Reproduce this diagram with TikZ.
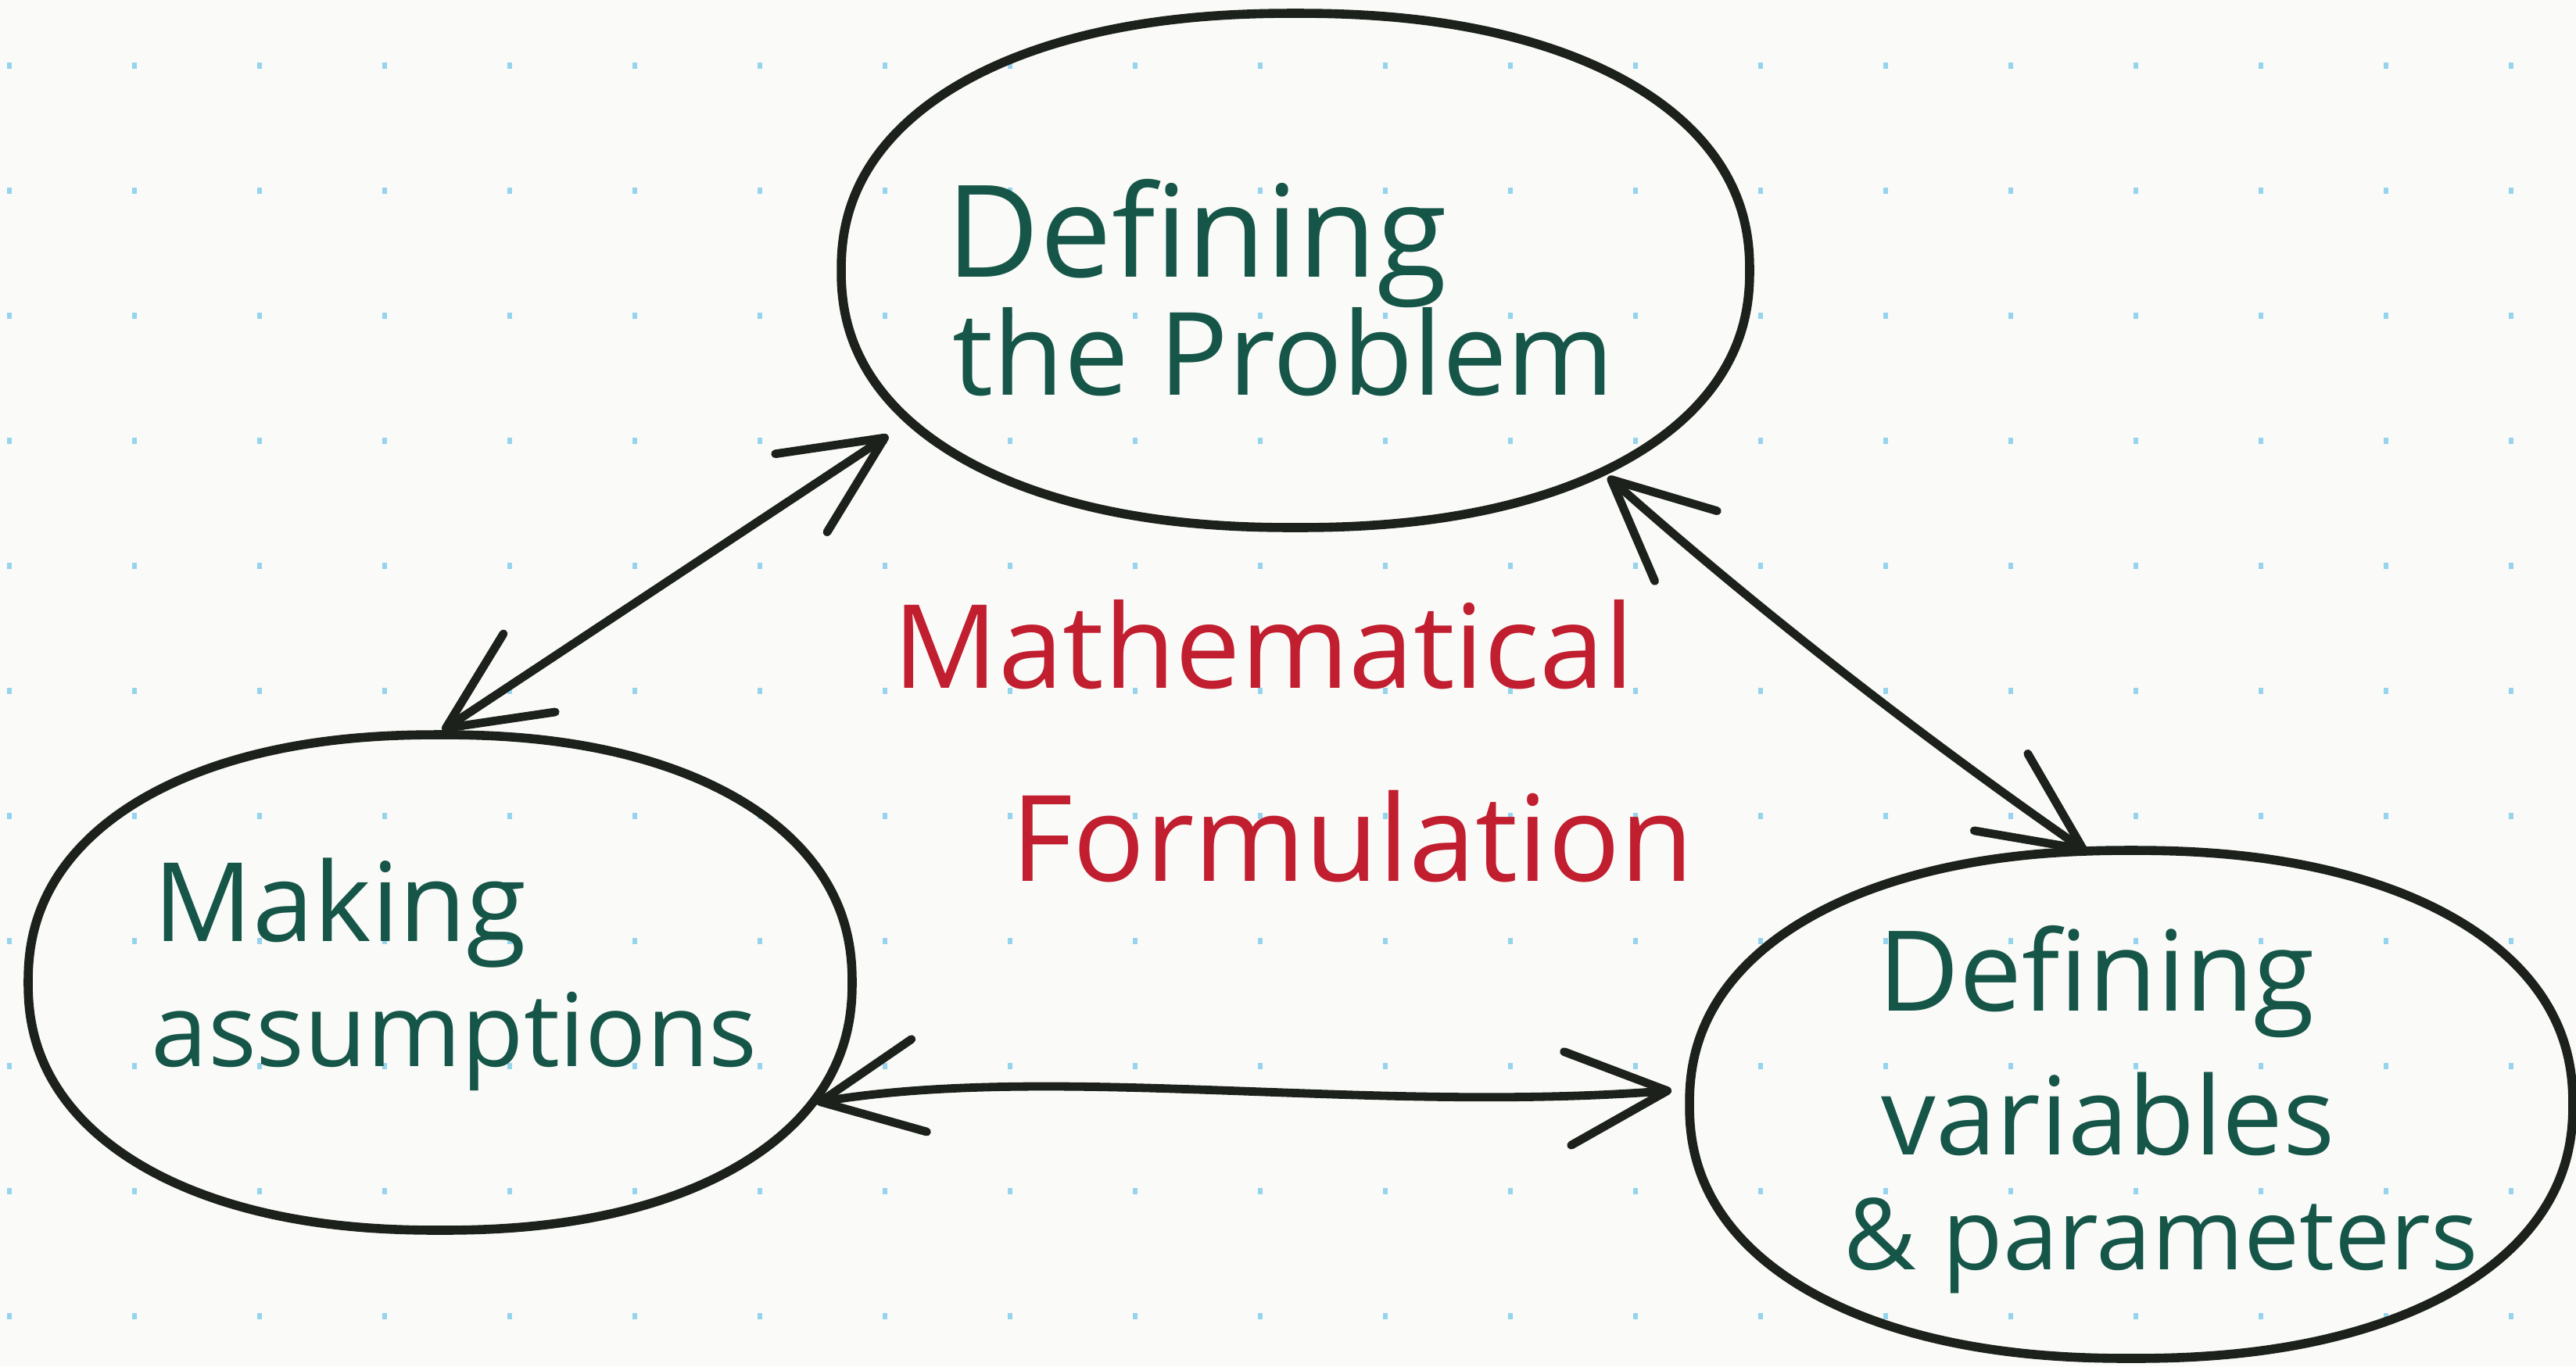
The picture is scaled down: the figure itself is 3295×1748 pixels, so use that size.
\documentclass[tikz,border=0pt]{standalone}
\usepackage{fontspec}
\setmainfont{Open Sans}
\usetikzlibrary{arrows.meta,shapes.geometric}
\definecolor{paper}{RGB}{250,250,248}
\definecolor{dotc}{RGB}{150,212,238}
\definecolor{ink}{RGB}{28,33,27}
\definecolor{grn}{RGB}{22,86,72}
\definecolor{redc}{RGB}{193,30,47}
\newcommand\supell[4]{\draw[outline] plot[domain=0.5:359.5,samples=360]
  ({#1+#3*cos(\x)*pow(abs(cos(\x)),-0.1)},{#2+#4*sin(\x)*pow(abs(sin(\x)),-0.1)}) -- cycle;}
\newcommand\fitw[2]{\resizebox{#1}{!}{#2}}
\begin{document}
\begin{tikzpicture}[x=0.25pt,y=-0.25pt,
  blob/.style={ellipse, draw=none, inner sep=0pt, outer sep=0pt},
  outline/.style={draw=ink, line width=2.9pt, line join=round, line cap=round},
  conn/.style={draw=ink, line width=2.7pt, line cap=round,
    {Straight Barb[length=32pt,width=30pt,round]}-{Straight Barb[length=32pt,width=30pt,round]}},
  lbl/.style={inner sep=0pt, anchor=base west, text=grn},
  ttl/.style={inner sep=0pt, anchor=base west, text=redc}]
\fill[paper] (0,0) rectangle (3295,1748);
\useasboundingbox (0,0) rectangle (3295,1748);
% dot grid
\foreach \i in {0,...,20}{
  \foreach \j in {0,...,10}{
    \fill[dotc] ({12+160*\i-3},{84+160*\j-4}) rectangle ++(6,8);
  }
}
% nodes (ellipses)
\node[blob, minimum width=290.5pt, minimum height=164.5pt] (T) at (1657,346) {};
\node[blob, minimum width=263.5pt, minimum height=158.5pt] (L) at (563,1257) {};
\node[blob, minimum width=282.5pt, minimum height=162.5pt] (R) at (2726,1413) {};
\supell{1657}{346}{581}{329}
\supell{563}{1257}{527}{317}
\supell{2726}{1413}{565}{325}
% labels
\node[lbl] (t1) at (1210,354) {\fitw{160pt}{Defining}};
\node[lbl] (t2) at (1218,505) {\fitw{211.5pt}{the Problem}};
\node[lbl] (l1) at (196,1204) {\fitw{119.25pt}{Making}};
\node[lbl] (l2) at (193,1364) {\fitw{193.75pt}{assumptions}};
\node[lbl] (r1) at (2402,1293) {\fitw{139.5pt}{Defining}};
\node[lbl] (r2) at (2406,1477) {\fitw{145pt}{variables}};
\node[lbl] (r3) at (2358,1624) {\fitw{202.75pt}{\& parameters}};
\node[ttl] (m1) at (1142,880) {\fitw{236.75pt}{Mathematical}};
\node[ttl] (m2) at (1293,1127) {\fitw{218.25pt}{Formulation}};
% connectors
\draw[conn, shorten <=2.5pt, shorten >=12pt] (L.91) -- (T.201);
\draw[conn, shorten <=6pt] (T.-33) .. controls (2238,771) and (2448,936) .. (R.100);
\draw[conn, shorten <=6pt, shorten >=6pt] (L.-19) .. controls (1350,1360) and (1750,1425) .. (R.178);
\end{tikzpicture}
\end{document}
